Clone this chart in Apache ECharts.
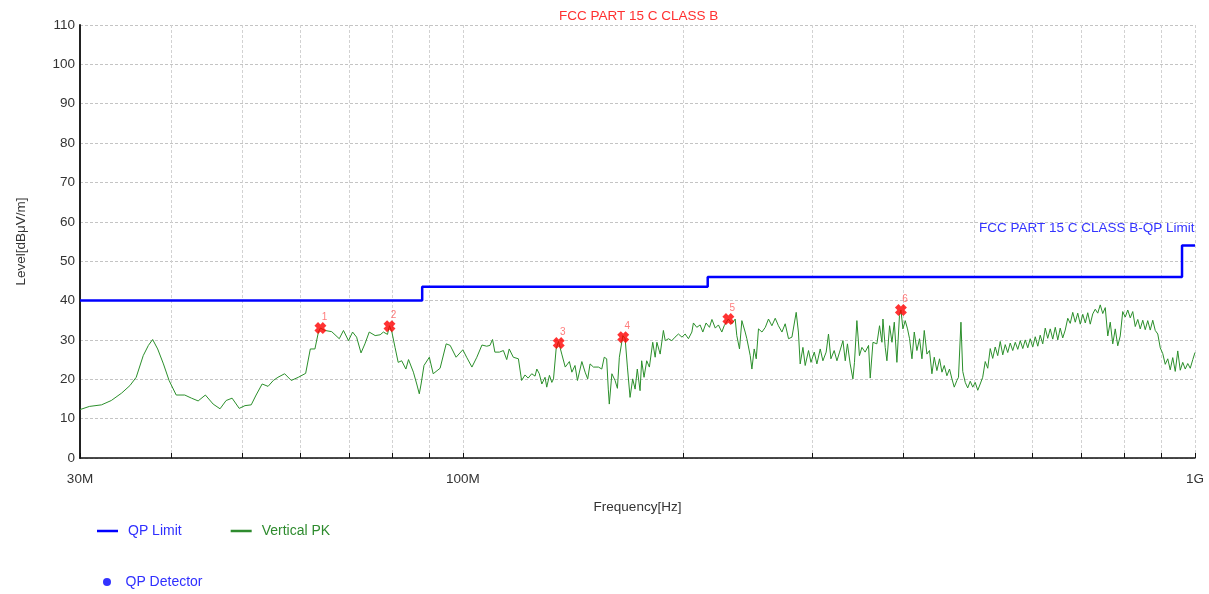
<!DOCTYPE html>
<html>
<head>
<meta charset="utf-8" />
<title>FCC PART 15 C CLASS B</title>
<script src="https://cdn.jsdelivr.net/npm/echarts@6/dist/echarts.min.js"></script>
<style>
    html, body { margin: 0; padding: 0; background: #fff; }
    #chart { width: 1209px; height: 594px; }
</style>
</head>
<body>
<div id="chart"></div>
<script type="text/javascript">
    // frequency in MHz, level in dBuV/m
    var pkFreq = [30.0, 30.9, 32.1, 33.1, 34.2, 35.1, 35.8, 36.6, 37.2, 37.7, 38.3, 39.0, 39.7, 40.6, 41.7, 42.6, 43.5, 44.5, 45.6, 46.6,
        47.5, 48.4, 49.5, 50.4, 51.4, 52.2, 53.2, 54.2, 55.1, 55.9, 57.1, 58.3, 59.6, 61.0, 61.9, 62.8, 63.5, 63.9, 64.8, 66.2,
        67.8, 68.7, 69.8, 70.7, 71.6, 72.6, 73.5, 74.5, 75.9, 77.1, 77.9, 78.9, 79.4, 80.0, 80.8, 81.6, 82.5, 83.6, 84.3, 85.6,
        86.5, 87.2, 87.7, 88.5, 90.0, 91.1, 93.1, 94.9, 96.1, 97.9, 100.0, 101.2, 102.9, 104.5, 106.2, 107.8, 108.9, 109.8, 110.6, 112.2,
        113.6, 114.8, 115.7, 117.2, 119.1, 119.7, 120.3, 121.6, 122.8, 124.2, 125.5, 126.2, 127.2, 128.2, 129.5, 130.2, 131.3, 132.3, 133.0, 134.1,
        135.1, 136.5, 138.0, 139.8, 140.9, 142.3, 143.4, 145.4, 146.9, 148.1, 149.2, 150.8, 153.2, 154.8, 156.0, 157.2, 158.0, 158.5, 159.8, 161.4,
        162.6, 163.6, 165.4, 166.6, 167.8, 169.2, 170.6, 171.9, 173.1, 174.6, 175.5, 176.8, 178.3, 179.8, 181.7, 183.1, 184.1, 186.0, 187.9, 189.0,
        190.9, 192.9, 194.9, 197.0, 199.2, 201.2, 203.3, 205.5, 206.5, 208.7, 210.9, 212.7, 214.9, 217.2, 218.9, 221.2, 223.4, 225.8, 227.5, 230.5,
        233.1, 235.5, 236.7, 238.7, 240.5, 241.7, 243.0, 244.3, 246.9, 248.2, 250.0, 251.6, 253.4, 256.2, 258.9, 261.5, 264.3, 267.1, 269.8, 272.8,
        275.6, 278.5, 281.5, 285.3, 287.3, 288.9, 291.4, 293.5, 296.6, 298.9, 302.0, 304.5, 307.7, 310.3, 313.5, 315.8, 318.2, 321.5, 324.3, 327.0,
        330.5, 332.9, 335.2, 338.1, 341.0, 342.7, 345.3, 348.1, 350.8, 354.4, 358.2, 360.1, 363.2, 367.7, 370.8, 373.6, 374.8, 377.5, 379.5, 382.7,
        385.6, 388.4, 391.6, 394.8, 396.6, 399.1, 402.0, 404.9, 407.5, 410.6, 413.6, 417.0, 420.5, 423.7, 426.8, 430.4, 433.9, 437.2, 440.4, 444.1,
        447.8, 451.2, 454.5, 458.3, 462.1, 465.6, 469.0, 472.9, 475.3, 479.0, 481.7, 485.5, 489.3, 493.2, 497.1, 501.0, 505.0, 508.9, 512.9, 517.0,
        521.1, 525.2, 529.3, 533.5, 537.7, 542.0, 546.3, 550.6, 554.9, 559.3, 563.7, 568.2, 572.7, 577.2, 581.8, 586.4, 591.0, 595.6, 600.3, 605.1,
        609.9, 614.6, 619.5, 624.4, 629.3, 634.3, 639.3, 644.4, 649.5, 654.5, 659.7, 664.9, 670.2, 675.5, 680.8, 686.2, 691.6, 697.1, 702.6, 708.2,
        713.7, 719.3, 725.0, 730.7, 736.5, 742.3, 748.2, 754.1, 760.1, 766.0, 772.1, 778.2, 784.3, 790.5, 796.7, 803.0, 809.4, 815.8, 822.2, 828.7,
        835.3, 841.8, 848.5, 855.2, 861.9, 868.7, 875.6, 882.5, 889.5, 896.5, 903.6, 910.7, 917.9, 925.1, 932.4, 939.8, 947.2, 954.7, 962.2, 969.8,
        977.5, 985.2, 993.0, 1000.0];
    var pkLevel = [12.3, 13.1, 13.5, 14.6, 16.5, 18.4, 20.5, 26.0, 28.6, 30.1, 27.7, 23.9, 19.7, 16.0, 16.0, 15.2, 14.5, 16.0, 13.7, 12.5,
        14.6, 15.2, 12.6, 13.3, 13.5, 16.0, 18.8, 18.2, 19.7, 20.5, 21.4, 19.7, 20.5, 21.5, 27.7, 27.7, 32.0, 33.0, 32.4, 32.1,
        30.3, 32.4, 29.8, 32.0, 30.7, 26.7, 29.0, 32.0, 31.1, 31.3, 32.0, 31.4, 33.6, 32.0, 28.1, 24.3, 24.7, 22.6, 25.0, 21.8,
        18.8, 16.3, 18.8, 23.5, 25.6, 21.4, 22.8, 29.0, 28.6, 25.6, 27.5, 25.6, 23.1, 25.6, 28.7, 28.4, 28.6, 30.1, 26.9, 26.9,
        27.3, 25.0, 27.7, 25.6, 25.2, 25.0, 19.7, 21.1, 20.3, 21.4, 20.8, 22.6, 21.4, 18.8, 20.5, 18.0, 21.0, 19.2, 20.1, 27.7,
        29.6, 26.4, 23.1, 24.5, 21.8, 23.5, 19.7, 24.5, 21.8, 20.1, 23.9, 23.1, 23.1, 22.6, 25.6, 25.2, 17.5, 13.7, 21.4, 19.7,
        17.7, 25.6, 31.1, 30.3, 23.1, 15.4, 20.1, 17.5, 22.6, 17.1, 24.7, 20.5, 24.7, 23.1, 29.4, 25.6, 29.4, 26.4, 32.4, 29.8,
        30.3, 29.8, 30.7, 31.5, 30.7, 31.5, 30.3, 32.0, 34.3, 33.2, 33.8, 32.0, 34.3, 33.2, 35.2, 33.0, 33.8, 32.0, 33.6, 35.3,
        34.1, 35.3, 31.1, 27.7, 34.9, 34.5, 32.0, 30.3, 26.0, 22.6, 27.7, 25.2, 32.8, 32.0, 33.2, 35.3, 33.6, 35.5, 33.6, 32.0,
        34.1, 30.3, 30.7, 37.0, 32.0, 23.9, 28.1, 23.5, 27.3, 24.3, 26.9, 23.9, 27.7, 24.7, 26.9, 31.5, 25.2, 27.3, 24.7, 26.9,
        29.8, 24.7, 29.0, 23.9, 20.1, 24.3, 34.9, 26.0, 28.1, 26.9, 28.6, 20.3, 29.4, 29.0, 33.6, 29.4, 35.3, 28.1, 24.7, 33.6,
        29.4, 34.5, 24.3, 36.2, 37.6, 32.8, 34.9, 32.8, 30.3, 25.2, 32.0, 27.3, 30.3, 25.2, 32.4, 26.4, 27.3, 21.4, 25.6, 22.2,
        25.2, 21.8, 23.5, 20.9, 22.6, 20.1, 18.0, 19.7, 20.5, 34.5, 22.0, 19.2, 17.8, 19.5, 18.0, 19.2, 17.2, 18.8, 20.5, 24.5,
        22.8, 27.8, 25.3, 28.2, 26.0, 29.6, 26.2, 28.8, 26.8, 29.2, 27.3, 29.4, 27.6, 29.8, 27.8, 30.0, 28.0, 30.3, 28.2, 30.8,
        28.4, 31.2, 29.0, 33.0, 30.4, 32.8, 30.2, 33.2, 30.0, 33.0, 30.5, 32.5, 35.5, 34.2, 37.0, 34.5, 36.8, 34.0, 36.5, 34.3,
        36.9, 34.0, 36.6, 37.8, 36.8, 38.9, 36.7, 38.2, 31.0, 34.5, 29.0, 32.8, 28.5, 31.0, 37.2, 35.8, 37.6, 35.6, 37.2, 33.4,
        35.2, 32.8, 35.0, 32.6, 34.9, 32.5, 35.0, 32.4, 31.5, 28.0, 26.5, 23.8, 25.2, 22.4, 25.5, 22.0, 27.2, 22.3, 24.3, 22.6,
        24.0, 22.8, 25.0, 26.8];

    // QP limit steps
    var limitFreq = [30, 88, 88, 216, 216, 960, 960, 1000];
    var limitLevel = [40, 40, 43.5, 43.5, 46, 46, 54, 54];

    // marked peaks
    var markNo = ['1', '2', '3', '4', '5', '6'];
    var markFreq = [63.9, 79.4, 135.2, 165.6, 230.5, 396.6];
    var markLevel = [33.0, 33.5, 29.2, 30.7, 35.3, 37.6];

    // axis ticks
    var gridFreq = [30, 40, 50, 60, 70, 80, 90, 100, 200, 300, 400, 500, 600, 700, 800, 900, 1000];
    var labelFreq = [30, 100, 1000];
    var labelText = { 30: '30M', 100: '100M', 1000: '1G' };

    var font = 'Liberation Sans, Arial, sans-serif';

    var pkData = [], limitData = [], markData = [];
    for (var i = 0; i < pkFreq.length; i++) {
        pkData.push([Math.log10(pkFreq[i]), pkLevel[i]]);
    }
    for (var i = 0; i < limitFreq.length; i++) {
        limitData.push([Math.log10(limitFreq[i]), limitLevel[i]]);
    }
    for (var i = 0; i < markFreq.length; i++) {
        markData.push([Math.log10(markFreq[i]), markLevel[i], markNo[i]]);
    }

    var myChart = echarts.init(document.getElementById('chart'), null, { renderer: 'canvas' });

    myChart.setOption({
        animation: false,
        backgroundColor: '#fff',
        textStyle: { fontFamily: font },
        title: {
            text: 'FCC PART 15 C CLASS B',
            left: 554,
            top: 4,
            textStyle: { fontSize: 13.5, fontWeight: 'normal', color: '#ff3030', fontFamily: font }
        },
        grid: { left: 80, right: 14, top: 25, bottom: 136, containLabel: false },
        legend: [{
            data: [
                { name: 'QP Limit', textStyle: { color: '#2f2fff' } },
                { name: 'Vertical PK', textStyle: { color: '#2e8b2e' } }
            ],
            left: 92,
            top: 519,
            icon: 'rect',
            itemWidth: 21,
            itemHeight: 2.5,
            itemGap: 49,
            textStyle: { fontSize: 14, fontFamily: font, padding: [0, 0, 0, 5] }
        }, {
            data: [{ name: 'QP Detector', textStyle: { color: '#2f2fff' } }],
            left: 98,
            top: 570,
            icon: 'circle',
            itemWidth: 21,
            itemHeight: 8,
            textStyle: { fontSize: 14, fontFamily: font, padding: [0, 0, 0, 3] }
        }],
        xAxis: {
            type: 'value',
            min: Math.log10(30),
            max: 3,
            name: 'Frequency[Hz]',
            nameLocation: 'middle',
            nameGap: 42,
            nameTextStyle: { fontSize: 13.5, color: '#333', fontFamily: font },
            axisLine: { show: true, lineStyle: { color: '#111', width: 1.5 } },
            axisTick: {
                show: true,
                inside: true,
                length: 5,
                lineStyle: { color: '#111' },
                customValues: gridFreq.map(function (f) { return Math.log10(f); })
            },
            axisLabel: {
                fontSize: 13.5,
                color: '#333',
                margin: 14,
                customValues: labelFreq.map(function (f) { return Math.log10(f); }),
                formatter: function (v) {
                    return labelText[Math.round(Math.pow(10, v))] || '';
                }
            },
            splitLine: {
                show: true,
                lineStyle: { color: '#d2d2d2', type: [3, 2], width: 1 }
            }
        },
        yAxis: {
            type: 'value',
            min: 0,
            max: 110,
            interval: 10,
            name: 'Level[dBμV/m]',
            nameLocation: 'middle',
            nameRotate: 90,
            nameGap: 52,
            nameTextStyle: { fontSize: 13.5, color: '#333', fontFamily: font },
            axisLine: { show: true, lineStyle: { color: '#222', width: 2 } },
            axisTick: { show: false },
            axisLabel: { fontSize: 13.5, color: '#333', margin: 5 },
            splitLine: {
                show: true,
                lineStyle: { color: '#c4c4c4', type: [3, 2], width: 1 }
            }
        },
        series: [{
            name: 'QP Limit',
            type: 'line',
            data: limitData,
            symbol: 'none',
            color: '#0000ff',
            lineStyle: { color: '#0000ff', width: 2.5 },
            z: 3,
            markPoint: {
                symbol: 'circle',
                symbolSize: 1,
                itemStyle: { color: 'rgba(0,0,0,0)' },
                data: [{ coord: [3, 54] }],
                label: {
                    show: true,
                    formatter: 'FCC PART 15 C CLASS B-QP Limit',
                    position: [0, -17],
                    align: 'right',
                    verticalAlign: 'middle',
                    color: '#3434ff',
                    fontSize: 13.5,
                    fontFamily: font
                }
            }
        }, {
            name: 'Vertical PK',
            type: 'line',
            data: pkData,
            symbol: 'none',
            color: '#2e8b2e',
            lineStyle: { color: '#2b8f2b', width: 1 },
            z: 2
        }, {
            name: 'Marks',
            type: 'scatter',
            data: markData,
            symbol: 'path://M3,0 L5,2 L7,0 L10,3 L8,5 L10,7 L7,10 L5,8 L3,10 L0,7 L2,5 L0,3 Z',
            symbolSize: 12,
            itemStyle: { color: '#ff0000' },
            label: {
                show: true,
                position: 'top',
                offset: [4, 5],
                color: '#ff5a5a',
                fontSize: 10,
                formatter: function (p) { return p.value[2]; }
            },
            z: 5
        }, {
            name: 'QP Detector',
            type: 'scatter',
            data: [],
            color: '#0000ff'
        }]
    });
</script>
</body>
</html>
